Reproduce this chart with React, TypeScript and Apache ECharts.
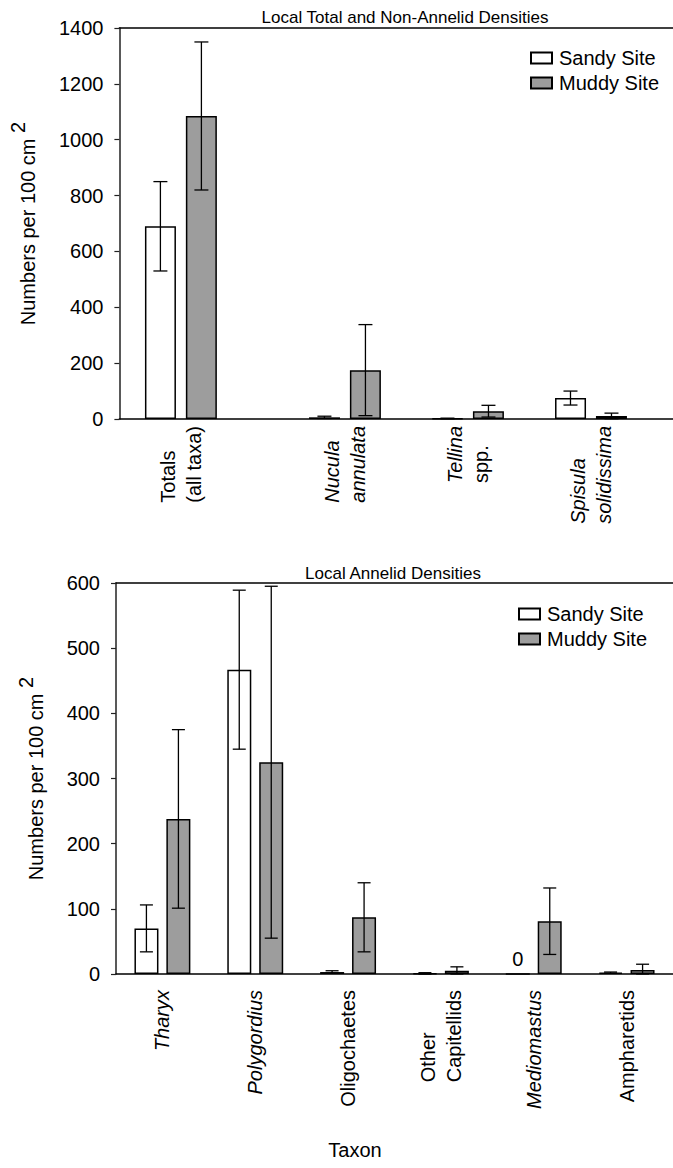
import React, { useEffect, useRef } from "react";
import * as echarts from "echarts";

// ---------- data ----------
const TOP_TAXA = ["Totals (all taxa)", "Nucula annulata", "Tellina spp.", "Spisula solidissima"];
const TOP_LABEL_LINES = [["Totals", "(all taxa)"], ["Nucula", "annulata"], ["Tellina", "spp."], ["Spisula", "solidissima"]];
const TOP_LABEL_ITALIC = [[false, false], [true, true], [true, false], [true, true]];
const TOP_SANDY = [690, 6, 2, 75];
const TOP_SANDY_ERR = [160, 4, 1, 25];
const TOP_MUDDY = [1085, 175, 28, 11];
const TOP_MUDDY_ERR = [265, 163, 21, 10];

const BOT_TAXA = ["Tharyx", "Polygordius", "Oligochaetes", "Other Capitellids", "Mediomastus", "Ampharetids"];
const BOT_LABEL_LINES = [["Tharyx"], ["Polygordius"], ["Oligochaetes"], ["Other", "Capitellids"], ["Mediomastus"], ["Ampharetids"]];
const BOT_LABEL_ITALIC = [[true], [true], [false], [false, false], [true], [false]];
const BOT_SANDY = [70, 467, 3, 1, 0, 2];
const BOT_SANDY_ERR = [36, 122, 2, 1, 0, 1];
const BOT_MUDDY = [238, 325, 87, 5, 81, 6];
const BOT_MUDDY_ERR = [137, 270, 53, 6, 51, 9];

const TOP_TITLE = "Local Total and Non-Annelid Densities";
const BOT_TITLE = "Local Annelid Densities";
const SERIES_NAMES = ["Sandy Site", "Muddy Site"];

// ---------- layout ----------
const TOP_SLOT_COUNT = 28;
const TOP_SLOTS = [3, 11, 17, 23];
const FONT = "Liberation Sans, Arial, sans-serif";
const MUDDY_FILL = "#9d9d9d";

function richLabel(lines: string[], italic: boolean[]) {
  return lines.map((l, i) => `{${italic[i] ? "i" : "n"}|${l}}`).join("\n");
}

export default function App() {
  const ref = useRef<HTMLDivElement>(null);
  useEffect(() => {
    if (!ref.current) return;
    const chart = echarts.init(ref.current, null, { renderer: "svg" });

    const topCats = Array.from({ length: TOP_SLOT_COUNT }, (_, i) => String(i));
    const slotOf = (i: number) => TOP_SLOTS.indexOf(i);
    const topSeriesData = (vals: number[]) =>
      topCats.map((_, i) => (slotOf(i) >= 0 ? vals[slotOf(i)] : null));

    const errItems = (vals: number[], errs: number[], side: number, xs: number[]) =>
      vals.map((v, i) => [xs[i], v, errs[i], side]).filter((d) => d[2] > 0);

    const makeErr = (off: number, cap: number) => (params: any, api: any) => {
      const x = api.value(0);
      const v = api.value(1);
      const e = api.value(2);
      const side = api.value(3);
      const top = api.coord([x, v + e]);
      const bot = api.coord([x, Math.max(0, v - e)]);
      const cx = top[0] + (side === 0 ? -off : off);
      const st = { stroke: "#000", lineWidth: 1.3 };
      return {
        type: "group",
        children: [
          { type: "line", shape: { x1: cx, y1: top[1], x2: cx, y2: bot[1] }, style: st },
          { type: "line", shape: { x1: cx - cap, y1: top[1], x2: cx + cap, y2: top[1] }, style: st },
          { type: "line", shape: { x1: cx - cap, y1: bot[1], x2: cx + cap, y2: bot[1] }, style: st },
        ],
      };
    };

    const labelRich = {
      n: { fontSize: 20, fontFamily: FONT, color: "#000", align: "left", lineHeight: 26 },
      i: { fontSize: 20, fontFamily: FONT, color: "#000", fontStyle: "italic", align: "left", lineHeight: 26 },
    };

    const yName = "{n|Numbers per 100 cm }{s|2}";
    const yNameStyle = {
      fontSize: 20,
      fontFamily: FONT,
      color: "#000",
      rich: {
        n: { fontSize: 20, fontFamily: FONT, color: "#000", lineHeight: 22 },
        s: { fontSize: 20, fontFamily: FONT, color: "#000", lineHeight: 22, padding: [0, 0, 20, 0] },
      },
    };

    const yAxisCommon = {
      type: "value",
      nameLocation: "middle",
      nameGap: 61,
      nameTextStyle: yNameStyle,
      axisLine: { show: true, lineStyle: { color: "#222", width: 1.5 } },
      axisTick: { show: true, length: 5, lineStyle: { color: "#222", width: 1.2 } },
      axisLabel: {
        fontSize: 20,
        fontFamily: FONT,
        color: "#000",
        margin: 16,
        padding: [14, 0, 0, 0],
        formatter: (v: number) => String(v),
      },
      splitLine: { show: false },
    };

    const topLine = (gridIndex: number) => ({
      type: "value",
      gridIndex,
      position: "top",
      min: 0,
      max: 1,
      axisLine: { show: true, onZero: false, lineStyle: { color: "#000", width: 1.5 } },
      axisTick: { show: false },
      axisLabel: { show: false },
      splitLine: { show: false },
    });

    const barStyle = (fill: string) => ({ color: fill, borderColor: "#000", borderWidth: 1.5 });

    const titleStyle = { fontSize: 17, fontWeight: "normal", fontFamily: FONT, color: "#000" };
    const legendCommon = {
      orient: "vertical",
      itemWidth: 21,
      itemHeight: 11,
      itemGap: 3,
      icon: "rect",
      data: SERIES_NAMES,
      textStyle: { fontSize: 20, fontFamily: FONT, color: "#000", lineHeight: 22, padding: [0, 0, 0, 2] },
    };

    const option: any = {
      animation: false,
      backgroundColor: "#fff",
      textStyle: { fontFamily: FONT },
      title: [
        { text: TOP_TITLE, left: 400, top: 4, textAlign: "center", textStyle: titleStyle },
        { text: BOT_TITLE, left: 388, top: 560, textAlign: "center", textStyle: titleStyle },
      ],
      legend: [
        { ...legendCommon, left: 525, top: 42 },
        { ...legendCommon, left: 513, top: 598 },
      ],
      grid: [
        { left: 116, right: 0, top: 28, height: 391 },
        { left: 116, right: 0, top: 583, height: 391 },
      ],
      xAxis: [
        {
          type: "category",
          gridIndex: 0,
          data: topCats,
          boundaryGap: false,
          axisLine: { show: true, lineStyle: { color: "#000", width: 1.5 } },
          axisTick: { show: false },
          axisLabel: {
            interval: 0,
            rotate: 90,
            margin: 7,
            rich: labelRich,
            formatter: (_v: string, idx: number) => {
              const s = slotOf(idx);
              return s >= 0 ? richLabel(TOP_LABEL_LINES[s], TOP_LABEL_ITALIC[s]) : "";
            },
          },
        },
        topLine(0),
        {
          type: "category",
          gridIndex: 1,
          data: BOT_TAXA,
          axisLine: { show: true, lineStyle: { color: "#000", width: 1.5 } },
          axisTick: { show: false },
          axisLabel: {
            interval: 0,
            rotate: 90,
            margin: 16,
            rich: labelRich,
            formatter: (_v: string, idx: number) => richLabel(BOT_LABEL_LINES[idx], BOT_LABEL_ITALIC[idx]),
          },
        },
        topLine(1),
      ],
      yAxis: [
        { ...yAxisCommon, gridIndex: 0, min: 0, max: 1400, interval: 200, name: yName },
        { ...yAxisCommon, gridIndex: 1, min: 0, max: 600, interval: 100, name: yName },
      ],
      graphic: [
        {
          type: "text",
          x: 355,
          y: 1150,
          style: { text: "Taxon", fontSize: 20, fontFamily: FONT, fill: "#000", align: "center", verticalAlign: "middle" },
        },
      ],
      series: [
        {
          name: SERIES_NAMES[0],
          type: "bar",
          xAxisIndex: 0,
          yAxisIndex: 0,
          barWidth: 31,
          barGap: "32%",
          itemStyle: barStyle("#fff"),
          data: topSeriesData(TOP_SANDY),
        },
        {
          name: SERIES_NAMES[1],
          type: "bar",
          xAxisIndex: 0,
          yAxisIndex: 0,
          barWidth: 31,
          barGap: "32%",
          itemStyle: barStyle(MUDDY_FILL),
          data: topSeriesData(TOP_MUDDY),
        },
        {
          name: "top-err",
          type: "custom",
          xAxisIndex: 0,
          yAxisIndex: 0,
          z: 5,
          renderItem: makeErr(20.5, 7),
          data: [
            ...errItems(TOP_SANDY, TOP_SANDY_ERR, 0, TOP_SLOTS),
            ...errItems(TOP_MUDDY, TOP_MUDDY_ERR, 1, TOP_SLOTS),
          ],
        },
        {
          name: SERIES_NAMES[0],
          type: "bar",
          xAxisIndex: 2,
          yAxisIndex: 1,
          barWidth: 24,
          barGap: "33%",
          itemStyle: barStyle("#fff"),
          data: BOT_SANDY.map((v, i) =>
            BOT_TAXA[i] === "Mediomastus" && v === 0
              ? {
                  value: v,
                  label: {
                    show: true,
                    position: "top",
                    distance: 4,
                    formatter: "0",
                    fontSize: 20,
                    fontFamily: FONT,
                    color: "#000",
                  },
                }
              : v
          ),
        },
        {
          name: SERIES_NAMES[1],
          type: "bar",
          xAxisIndex: 2,
          yAxisIndex: 1,
          barWidth: 24,
          barGap: "33%",
          itemStyle: barStyle(MUDDY_FILL),
          data: BOT_MUDDY,
        },
        {
          name: "bot-err",
          type: "custom",
          xAxisIndex: 2,
          yAxisIndex: 1,
          z: 5,
          renderItem: makeErr(16, 6.5),
          data: [
            ...errItems(BOT_SANDY, BOT_SANDY_ERR, 0, BOT_TAXA.map((_, i) => i)),
            ...errItems(BOT_MUDDY, BOT_MUDDY_ERR, 1, BOT_TAXA.map((_, i) => i)),
          ],
        },
      ],
    };

    chart.setOption(option);
    return () => chart.dispose();
  }, []);

  return (
    <div
      ref={ref}
      style={{ position: "absolute", left: 0, top: 0, width: 673, height: 1168, background: "#fff" }}
    />
  );
}
